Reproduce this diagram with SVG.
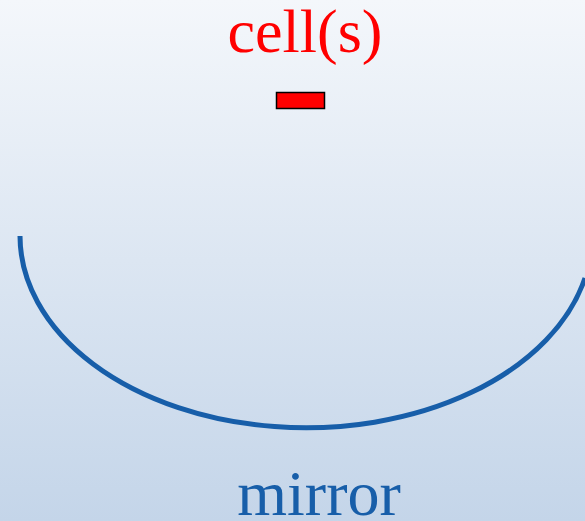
<svg xmlns="http://www.w3.org/2000/svg" width="585" height="521" viewBox="0 0 585 521">
<defs>
<linearGradient id="bg" x1="0" y1="0" x2="0" y2="1">
<stop offset="0" stop-color="#f4f7fb"/>
<stop offset="1" stop-color="#c4d5e9"/>
</linearGradient>
<style>
.lbl{font-family:"Liberation Serif","Times New Roman",serif;text-anchor:middle}
</style>
</defs>
<rect x="0" y="0" width="585" height="521" fill="url(#bg)"/>
<g id="cells">
<text class="lbl" x="305" y="52" font-size="62" fill="#ff0000">cell(s)</text>
<rect x="276.5" y="92.5" width="48" height="16" fill="#ff0000" stroke="#000" stroke-width="1.5"/>
</g>
<g id="mirror">
<path d="M20,236 A286,192 0 0 0 585,278" fill="none" stroke="#175ea9" stroke-width="5"/>
<text class="lbl" x="319" y="515" font-size="64" fill="#175ea9">mirror</text>
</g>
</svg>
